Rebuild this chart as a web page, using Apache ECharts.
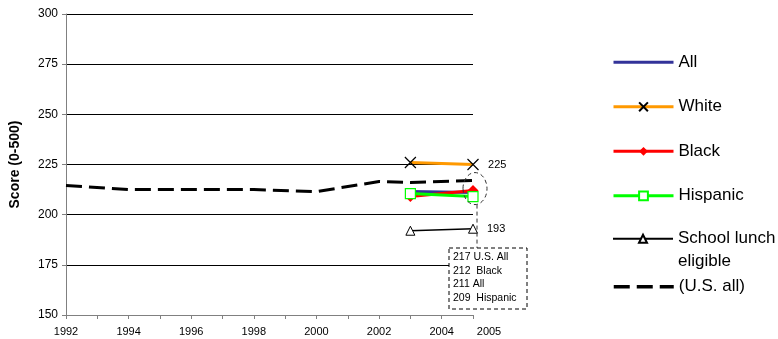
<!DOCTYPE html>
<html>
<head>
<meta charset="utf-8">
<script src="https://cdn.jsdelivr.net/npm/echarts@6/dist/echarts.min.js"></script>
<style>
  html, body { margin: 0; padding: 0; background: #fff; }
  #chart { width: 778px; height: 339px; }
</style>
</head>
<body>
<div id="chart"></div>
<script>
// Reading scores (0-500), national trend plus the 2003/2005 subgroup results
const usYears = [1992, 1994, 1998, 2000, 2002, 2003, 2005];
const usAll = [214.5, 212.5, 212.5, 211.5, 216.5, 216, 217];

const groupYears = [2003, 2005];
const allStudents = [211.5, 211];
const white = [226, 225];
const black = [209, 212];
const hispanic = [210.5, 209];
const lunchEligible = [192, 193];

const yTicks = [150, 175, 200, 225, 250, 275, 300];
const xLabelYears = [1992, 1994, 1996, 1998, 2000, 2002, 2004, 2005];

const FONT = 'Liberation Sans, Arial, sans-serif';

function pairs(xs, ys) { return xs.map((x, i) => [x, ys[i]]); }

const chart = echarts.init(document.getElementById('chart'), null, { renderer: 'canvas' });

const xMark = 'path://M0,0L10,10M10,0L0,10';
const lastIdx = groupYears.length - 1;

function endLabel(values, idx) {
  return values.map((v, i) => i === idx
    ? { value: [groupYears[i], v], label: { show: true, position: 'right', distance: 9,
        formatter: String(v), fontSize: 11, color: '#000', fontFamily: FONT } }
    : [groupYears[i], v]);
}

const hidden = { color: 'rgba(0,0,0,0)', borderColor: 'rgba(0,0,0,0)', borderWidth: 0 };
const legendText = { fontSize: 17, lineHeight: 20, color: '#000', fontFamily: FONT };

chart.setOption({
  animation: false,
  backgroundColor: '#fff',
  grid: { left: 64, right: 305, top: 14, bottom: 24, containLabel: false },
  xAxis: {
    type: 'value', min: 1992, max: 2005, interval: 1,
    axisLine: { show: true, lineStyle: { color: '#808080', width: 1 } },
    axisTick: { show: true, length: 4, inside: false, lineStyle: { color: '#808080' } },
    splitLine: { show: false },
    axisLabel: {
      show: true, margin: 11, color: '#000', fontSize: 11, fontFamily: FONT,
      showMinLabel: true, showMaxLabel: true,
      formatter: function (v) {
        if (v === 2005) return '{e|2005}';
        return xLabelYears.indexOf(v) >= 0 ? String(v) : '';
      },
      rich: { e: { fontSize: 11, fontFamily: FONT, color: '#000', padding: [0, 0, 6, 32] } }
    }
  },
  yAxis: {
    type: 'value', min: yTicks[0], max: yTicks[yTicks.length - 1], interval: 25,
    name: 'Score (0-500)', nameLocation: 'middle', nameGap: 44,
    nameTextStyle: { fontSize: 14, fontWeight: 'bold', color: '#000', fontFamily: FONT },
    axisLine: { show: true, lineStyle: { color: '#808080', width: 1 } },
    axisTick: { show: true, length: 4, lineStyle: { color: '#808080' } },
    axisLabel: { color: '#000', fontSize: 12, margin: 8, fontFamily: FONT },
    splitLine: { show: true, lineStyle: { color: '#000', width: 1 } }
  },
  legend: [
    {
      orient: 'vertical', left: 612, top: 52.3, padding: 0, itemGap: 24.5,
      itemWidth: 60, itemHeight: 11, textStyle: legendText, selectedMode: false,
      data: [
        { name: 'All', itemStyle: hidden, lineStyle: { width: 3 } },
        { name: 'White', lineStyle: { width: 3 } },
        { name: 'Black', lineStyle: { width: 3 } },
        { name: 'Hispanic', lineStyle: { width: 3 } }
      ]
    },
    {
      orient: 'vertical', left: 612, top: 207.2, padding: 0,
      itemWidth: 60, itemHeight: 10, selectedMode: false,
      textStyle: { fontSize: 17, color: '#000', fontFamily: FONT,
        rich: {
          p: { fontSize: 17, lineHeight: 23, fontFamily: FONT, color: '#000' },
          t: { fontSize: 17, lineHeight: 23, fontFamily: FONT, color: '#000' }
        } },
      formatter: function () { return '{p| }\n{t|School lunch}\n{t|eligible}'; },
      data: [{ name: 'School lunch eligible', lineStyle: { width: 2 } }]
    },
    {
      orient: 'vertical', left: 612, top: 276.7, padding: 0,
      itemWidth: 60, itemHeight: 11, textStyle: legendText, selectedMode: false,
      data: [{ name: '(U.S. all)', itemStyle: hidden, lineStyle: { width: 3.5 } }]
    }
  ],
  series: [
    {
      name: 'All', type: 'line', data: pairs(groupYears, allStudents),
      symbol: 'none', lineStyle: { color: '#333399', width: 3 },
      itemStyle: { color: '#333399' }
    },
    {
      name: 'White', type: 'line', data: endLabel(white, lastIdx),
      symbol: xMark, symbolSize: 11,
      lineStyle: { color: '#FF9900', width: 3 },
      itemStyle: { color: 'rgba(0,0,0,0)', borderColor: '#000', borderWidth: 1.2 }
    },
    {
      name: 'Black', type: 'line', data: pairs(groupYears, black),
      symbol: 'diamond', symbolSize: 11,
      lineStyle: { color: '#FF0000', width: 3 },
      itemStyle: { color: '#FF0000', borderColor: '#FF0000', borderWidth: 0 }
    },
    {
      name: 'Hispanic', type: 'line', data: pairs(groupYears, hispanic),
      symbol: 'rect', symbolSize: 10,
      lineStyle: { color: '#00FF00', width: 3 },
      itemStyle: { color: '#fff', borderColor: '#00FF00', borderWidth: 1.2 }
    },
    {
      name: 'School lunch eligible', type: 'line', data: endLabel(lunchEligible, lastIdx),
      symbol: 'triangle', symbolSize: 9,
      lineStyle: { color: '#000', width: 1.5 },
      itemStyle: { color: '#fff', borderColor: '#000', borderWidth: 1 }
    },
    {
      name: '(U.S. all)', type: 'line', data: pairs(usYears, usAll),
      symbol: 'none',
      lineStyle: { color: '#000', width: 3, type: [16, 7] },
      itemStyle: { color: '#000' }
    }
  ]
});

// Callout for the 2005 cluster: dashed ring, leader line and value box
function drawCallout() {
  const p = chart.convertToPixel({ gridIndex: 0 }, [2005, 213]);
  const cx = p[0] + 2, cy = p[1];
  const boxLeft = p[0] - 24, boxTop = 248, boxW = 78, boxH = 61;
  const lines = [
    usAll[usAll.length - 1] + ' U.S. All',
    black[lastIdx] + '  Black',
    allStudents[lastIdx] + ' All',
    hispanic[lastIdx] + '  Hispanic'
  ];
  const dash = { stroke: '#333', lineWidth: 1, lineDash: [4, 3], fill: null };
  const elements = [
    { type: 'ellipse', shape: { cx: cx, cy: cy, rx: 12, ry: 16 }, style: dash, silent: true, z: 50 },
    { type: 'line', shape: { x1: cx + 2, y1: cy + 16, x2: cx + 2, y2: boxTop }, style: dash, silent: true, z: 50 },
    { type: 'rect', shape: { x: boxLeft, y: boxTop, width: boxW, height: boxH },
      style: { stroke: '#000', lineWidth: 1, lineDash: [4, 3], fill: '#fff' }, silent: true, z: 50 }
  ];
  lines.forEach((t, i) => {
    elements.push({
      type: 'text', silent: true, z: 51,
      style: { text: t, x: boxLeft + 4, y: boxTop + 9 + i * 13.7, fill: '#000',
        font: '10.5px ' + FONT, textVerticalAlign: 'middle', verticalAlign: 'middle' }
    });
  });
  chart.setOption({ graphic: elements });
}
drawCallout();
</script>
</body>
</html>
